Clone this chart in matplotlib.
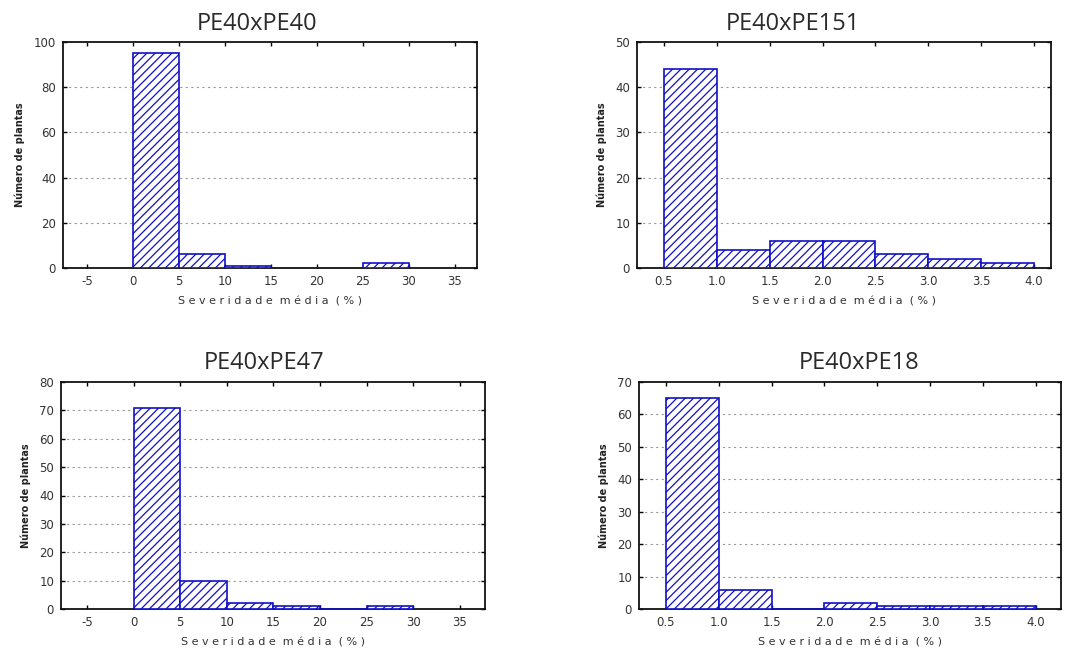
import numpy as np
import matplotlib
matplotlib.use('Agg')
import matplotlib.pyplot as plt

# Histogramas de severidade média por cruzamento
titulos = ['PE40xPE40', 'PE40xPE151', 'PE40xPE47', 'PE40xPE18']

bordas_largas = [0, 5, 10, 15, 20, 25, 30]
bordas_finas = [0.5, 1.0, 1.5, 2.0, 2.5, 3.0, 3.5, 4.0]

contagem_pe40 = [95, 6, 1, 0, 0, 2]
contagem_pe151 = [44, 4, 6, 6, 3, 2, 1]
contagem_pe47 = [71, 10, 2, 1, 0, 1]
contagem_pe18 = [65, 6, 0, 2, 1, 1, 1]

ticks_largos = [-5, 0, 5, 10, 15, 20, 25, 30, 35]
ticks_finos = [0.5, 1.0, 1.5, 2.0, 2.5, 3.0, 3.5, 4.0]
rotulos_largos = ['-5', '0', '5', '10', '15', '20', '25', '30', '35']
rotulos_finos = ['0.5', '1.0', '1.5', '2.0', '2.5', '3.0', '3.5', '4.0']

ylim_max = [100, 50, 80, 70]
ystep = [20, 10, 10, 10]

paineis = [
    (bordas_largas, contagem_pe40, ticks_largos, rotulos_largos, (-7.6, 37.4)),
    (bordas_finas, contagem_pe151, ticks_finos, rotulos_finos, (0.245, 4.16)),
    (bordas_largas, contagem_pe47, ticks_largos, rotulos_largos, (-7.8, 37.7)),
    (bordas_finas, contagem_pe18, ticks_finos, rotulos_finos, (0.245, 4.24)),
]

# posicoes (pixels) medidas na figura original 1086x652
W, H = 1086, 652
caixas = [(63, 42, 477, 268), (637, 42, 1051, 268),
          (61, 382, 485, 609), (639, 382, 1061, 609)]
pos_titulo = [(257, 24), (793, 24), (264, 363), (859, 363)]

azul = '#1010c8'
cinza_txt = '#333333'

plt.rcParams['hatch.linewidth'] = 0.9

fig = plt.figure(figsize=(10.86, 6.52), dpi=100)

for i, (bordas, contagem, ticks, rotulos, xlim) in enumerate(paineis):
    x0, y0, x1, y1 = caixas[i]
    ax = fig.add_axes([x0 / W, 1 - y1 / H, (x1 - x0) / W, (y1 - y0) / H])

    bordas = np.array(bordas)
    ax.bar(bordas[:-1], contagem, width=np.diff(bordas), align='edge',
           facecolor='white', edgecolor=azul, hatch='////', linewidth=1.2,
           zorder=3)

    ax.set_xlim(*xlim)
    ax.set_ylim(0, ylim_max[i])
    ax.set_xticks(ticks)
    ax.set_xticklabels(rotulos)
    ax.set_yticks(np.arange(0, ylim_max[i] + 1, ystep[i]))

    # grade pontilhada horizontal
    for yv in np.arange(ystep[i], ylim_max[i], ystep[i]):
        ax.axhline(yv, color='#999999', linestyle=(0, (2, 3)), linewidth=0.8,
                   zorder=1)

    ax.tick_params(axis='both', direction='in', length=3, width=1,
                   top=True, right=True, labelsize=8.5, labelcolor=cinza_txt,
                   pad=5)
    for sp in ax.spines.values():
        sp.set_linewidth(1.3)
        sp.set_color('#111111')

    ax.set_ylabel('Número de plantas', fontsize=7, fontweight='bold',
                  color='#222222', labelpad=6)
    ax.set_xlabel('S e v e r i d a d e  m é d i a  ( % )', fontsize=8,
                  color=cinza_txt, labelpad=6)

    tx, ty = pos_titulo[i]
    fig.text(tx / W, 1 - ty / H, titulos[i], fontsize=17, color='#2a2a2a',
             ha='center', va='center', family='Open Sans')

fig.savefig('out.png', dpi=100)
